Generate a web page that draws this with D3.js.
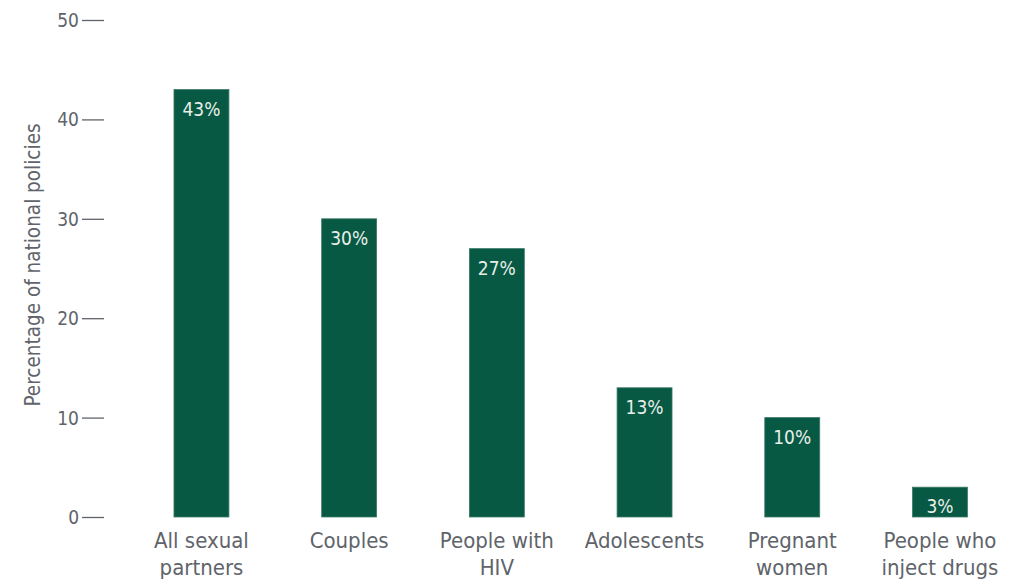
<!DOCTYPE html>
<html>
<head>
<meta charset="utf-8">
<script src="https://cdn.jsdelivr.net/npm/d3@7/dist/d3.min.js"></script>
<style>
  html, body { margin: 0; padding: 0; background: #fff; }
  svg text { font-family: "Liberation Sans Narrow", "DejaVu Sans Condensed", "Roboto Condensed", sans-serif; }
</style>
</head>
<body>
<svg id="chart" width="1023" height="579"></svg>
<script>
const categories = [["All sexual", "partners"], ["Couples"], ["People with", "HIV"], ["Adolescents"], ["Pregnant", "women"], ["People who", "inject drugs"]];
const values = [43, 30, 27, 13, 10, 3];
const yTicks = [0, 10, 20, 30, 40, 50];
const yTitle = "Percentage of national policies";

const svg = d3.select("#chart");
const keys = categories.map((c, i) => i);

const x = d3.scaleBand().domain(keys).range([127.6, 1013.8]).paddingInner(0.628).paddingOuter(0.314);
const y = d3.scaleLinear().domain([0, 50]).range([517, 20]);

const gray = "#60646a";

// y axis ticks
const yAxis = svg.append("g").attr("transform", "translate(104,0)")
  .call(d3.axisLeft(y).tickValues(yTicks).tickSize(22).tickPadding(3).tickFormat(d3.format("d")));
yAxis.select(".domain").remove();
yAxis.selectAll(".tick line").attr("stroke", gray).attr("stroke-width", 1.3);
yAxis.selectAll(".tick text").attr("fill", gray).style("font-size", "19px").attr("dy", "0.34em");

// y title
svg.append("text")
  .attr("transform", `translate(40,265) rotate(-90)`)
  .attr("text-anchor", "middle")
  .attr("fill", gray)
  .style("font-size", "20.5px")
  .text(yTitle);

// bars
svg.append("g").selectAll("rect").data(values).join("rect")
  .attr("x", (d, i) => x(i))
  .attr("y", d => y(d))
  .attr("width", x.bandwidth())
  .attr("height", d => y(0) - y(d))
  .attr("fill", "#075943")
  .attr("stroke", "#3d7a66")
  .attr("stroke-width", 0.8);

// value labels
svg.append("g").selectAll("text").data(values).join("text")
  .attr("x", (d, i) => x(i) + x.bandwidth() / 2)
  .attr("y", d => y(d) + 26)
  .attr("text-anchor", "middle")
  .attr("fill", "#e8efe9")
  .style("font-size", "19px")
  .text(d => d + "%");

// category labels
const cat = svg.append("g").selectAll("text").data(categories).join("text")
  .attr("x", (d, i) => x(i) + x.bandwidth() / 2)
  .attr("y", 548)
  .attr("text-anchor", "middle")
  .attr("fill", gray)
  .style("font-size", "22px");
cat.selectAll("tspan").data(d => d).join("tspan")
  .attr("x", function() { return d3.select(this.parentNode).attr("x"); })
  .attr("dy", (d, j) => j === 0 ? 0 : 27)
  .text(d => d);
</script>
</body>
</html>
